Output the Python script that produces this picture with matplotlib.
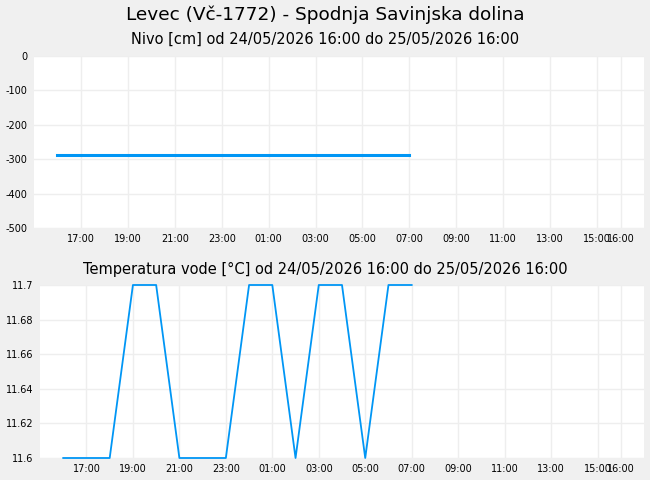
import matplotlib
matplotlib.use("Agg")
import matplotlib.pyplot as plt
import matplotlib.dates as mdates
import pandas as pd

# --- data ---
TITLE = "Levec (Vč-1772) - Spodnja Savinjska dolina"
LEVEL_TITLE = "Nivo [cm] od 24/05/2026 16:00 do 25/05/2026 16:00"
TEMP_TITLE = "Temperatura vode [°C] od 24/05/2026 16:00 do 25/05/2026 16:00"

level_times = ["2026-05-24 16:00", "2026-05-25 07:00"]
level_values = [-287, -287]

temp_times = ["2026-05-24 16:00", "2026-05-24 18:00", "2026-05-24 19:00",
              "2026-05-24 20:00", "2026-05-24 21:00", "2026-05-24 23:00",
              "2026-05-25 00:00", "2026-05-25 01:00", "2026-05-25 02:00",
              "2026-05-25 03:00", "2026-05-25 04:00", "2026-05-25 05:00",
              "2026-05-25 06:00", "2026-05-25 07:00"]
temp_values = [11.6, 11.6, 11.7, 11.7, 11.6, 11.6, 11.7, 11.7, 11.6,
               11.7, 11.7, 11.6, 11.7, 11.7]

level_yticks = [0, -100, -200, -300, -400, -500]
temp_yticks = [11.6, 11.62, 11.64, 11.66, 11.68, 11.7]
temp_ylabels = ["11.6", "11.62", "11.64", "11.66", "11.68", "11.7"]

x_ticks = list(pd.date_range("2026-05-24 17:00", "2026-05-25 15:00", freq="2h")) + \
    [pd.Timestamp("2026-05-25 16:00")]
x_min = pd.Timestamp("2026-05-24 15:00")
x_max = pd.Timestamp("2026-05-25 17:00")

LINE = "#0096f5"
GRID = "#eeeeee"
BG = "#f0f0f0"

plt.rcParams["axes.unicode_minus"] = False
plt.rcParams["font.family"] = "DejaVu Sans"

W, H = 650, 480
fig = plt.figure(figsize=(W / 100, H / 100), dpi=100, facecolor=BG)


def px_axes(left, top, right, bottom):
    return fig.add_axes([left / W, 1 - bottom / H, (right - left) / W, (bottom - top) / H])


def style(ax):
    ax.set_facecolor("white")
    for s in ax.spines.values():
        s.set_visible(False)
    ax.grid(True, color=GRID, linewidth=1)
    ax.set_axisbelow(True)
    ax.tick_params(length=0, labelsize=7, colors="black")
    ax.tick_params(axis="x", pad=4.5)
    ax.tick_params(axis="y", pad=4.5)
    ax.set_xlim(x_min, x_max)
    ax.set_xticks(x_ticks)
    ax.xaxis.set_major_formatter(mdates.DateFormatter("%H:%M"))


ax1 = px_axes(34, 56, 644, 228)
style(ax1)
ax1.plot(pd.to_datetime(level_times), level_values, color=LINE, linewidth=2.2)
ax1.set_ylim(-500, 0)
ax1.set_yticks(level_yticks)
ax1.set_yticklabels([str(v) for v in level_yticks])

ax2 = px_axes(40, 285, 644, 458)
style(ax2)
ax2.plot(pd.to_datetime(temp_times), temp_values, color=LINE, linewidth=1.3,
         clip_on=False)
ax2.set_ylim(11.6, 11.7)
ax2.set_yticks(temp_yticks)
ax2.set_yticklabels(temp_ylabels)

fig.text(0.5, 1 - 14.5 / H, TITLE, ha="center", va="center", fontsize=13.3)
fig.text(0.5, 1 - 39.5 / H, LEVEL_TITLE, ha="center", va="center", fontsize=10.5)
fig.text(0.5, 1 - 269.5 / H, TEMP_TITLE, ha="center", va="center", fontsize=10.5)

fig.savefig("out.png", dpi=100, facecolor=BG)
